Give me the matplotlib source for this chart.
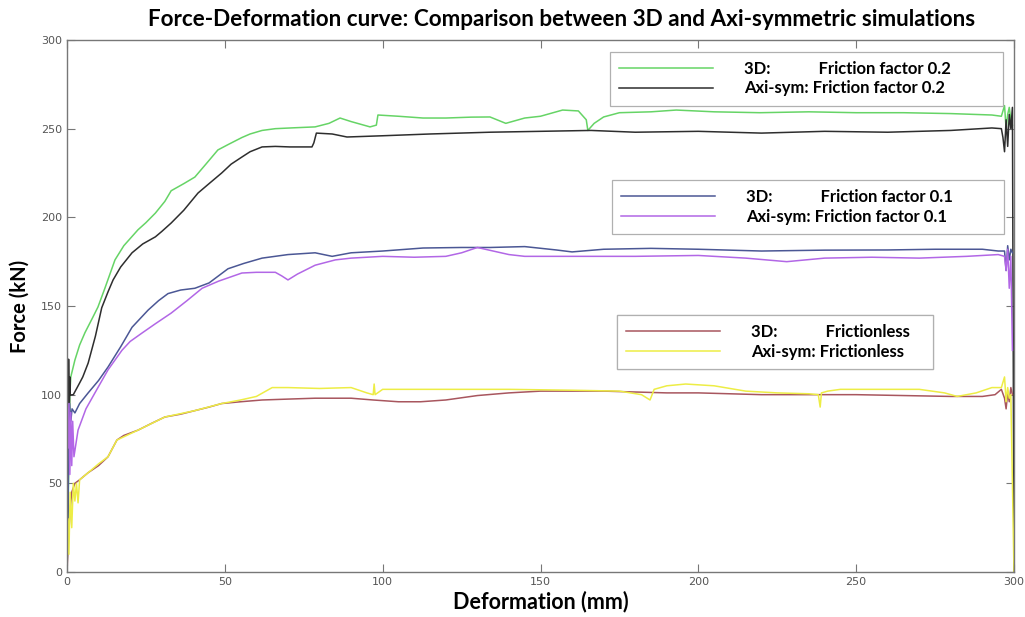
import matplotlib
matplotlib.use("Agg")
import matplotlib.pyplot as plt
from matplotlib.lines import Line2D

# 3D model, friction factor 0.2
green_x = [0, 0.3, 0.6, 0.9, 1.2, 2.5, 4, 5.7, 8, 9.8, 12, 15.2, 18, 22.5, 25, 28, 31, 33, 37, 40.5,
           44, 47.8, 51, 55.4, 58, 61.8, 66, 72, 78.6, 83, 86.5, 90, 94, 96, 98, 98.5, 105, 112.8, 120,
           128, 134, 139, 145, 150, 157, 162, 164.5, 165, 167, 170, 175, 185, 193, 205, 219.5, 235,
           250, 265, 280, 293, 296, 297, 297.5, 298, 298.5, 299, 299.5]
green_y = [0, 25, 70, 100, 110, 119.5, 128, 135, 143, 149.4, 160, 176, 184, 193, 197, 202.4, 209, 215,
           219, 222.7, 230, 238, 241, 245, 247, 249, 250, 250.5, 251, 253, 256, 254, 252, 251, 252,
           257.7, 257, 256, 256, 256.5, 256.6, 253, 256, 257, 260.5, 260, 255, 249, 253, 256.6, 259,
           259.5, 260.5, 259.5, 259, 259.5, 259, 259, 258.5, 257.7, 257, 263, 250, 258, 262, 255, 252]

# axi-symmetric model, friction factor 0.2
black_x = [0, 0.3, 0.5, 0.7, 0.9, 1.0, 2, 4, 5, 6.7, 9, 11, 13, 14.6, 17, 20.6, 24, 28, 30, 33, 37,
           41.5, 45, 49, 52, 55.4, 58, 61.8, 66, 70.6, 76, 77.6, 78.2, 79, 84, 88.7, 100, 115, 134,
           150, 166, 180, 200, 220, 240, 260, 280, 293, 296, 296.5, 297, 297.5, 298, 298.5, 299,
           299.5, 300]
black_y = [0, 40, 120, 85, 110, 99.8, 100, 106.6, 110, 117.8, 133, 149, 158, 164.7, 172, 180, 185,
           189, 192, 196.8, 204, 213.7, 219, 225, 230, 234, 237, 239.7, 240, 239.7, 239.7, 239.7, 242,
           247.5, 247, 245.3, 246, 247, 248, 248.5, 249, 248, 248.5, 247.5, 248.5, 248, 249, 250.4,
           250, 245, 237, 255, 240, 258, 250, 262, 0]

# 3D model, friction factor 0.1
blue_x = [0, 0.5, 0.8, 1.2, 1.6, 2.5, 4, 6.7, 10, 13, 17, 20.6, 25.7, 29, 32, 36, 40.5, 45, 51, 56,
          61.8, 70, 78.6, 84, 90, 100, 112.8, 125, 134, 145, 155, 160, 170, 185, 200, 220, 240, 260,
          275, 290, 295, 297, 297.5, 298, 298.5, 299, 299.5]
blue_y = [0, 60, 95, 85, 92, 89.7, 95, 101, 108, 115.6, 127, 138, 147.7, 153, 157, 159, 160, 163,
          171, 174, 177, 179, 180, 178, 180, 181, 182.7, 183, 183, 183.5, 181.6, 180.5, 182, 182.5,
          182, 181, 181.5, 181.6, 182, 182, 181, 181, 170, 184, 176, 182, 180]

# axi-symmetric model, friction factor 0.1
purple_x = [0.3, 0.6, 0.9, 1.2, 1.5, 1.8, 2.2, 3.5, 6, 9.8, 13, 17.4, 20, 23.8, 28, 33, 38, 42.8,
            48, 55.4, 60, 66, 68, 70, 73, 78.6, 85, 90, 100, 110, 120, 125, 130, 135, 140, 145, 160,
            180, 200, 215, 228, 240, 255, 270, 285, 295, 297, 297.5, 298, 298.5, 299, 299.5]
purple_y = [70, 95, 55, 90, 60, 85, 65, 80, 92, 104, 114, 125, 130, 134.8, 140, 146, 153, 160, 164,
            168.6, 169, 169, 167, 164.7, 168, 173, 176, 177, 178, 177.5, 178, 180, 183, 181, 179,
            178, 178, 178, 178.5, 177, 175, 177, 177.5, 177, 178, 179, 178, 170, 182, 160, 178, 125]

# 3D model, frictionless
brown_x = [0, 0.5, 1, 1.5, 2.5, 4, 6.7, 10, 13, 15.8, 18, 22.5, 27, 31, 36, 40.5, 45, 49, 55, 61.8,
           70, 78.6, 90, 97, 105, 112, 120, 130, 140, 150, 160, 170, 180, 190, 200, 210, 220, 235,
           250, 265, 280, 290, 294, 296, 297, 297.5, 298, 298.5, 299, 299.5]
brown_y = [0, 20, 35, 45, 50, 52, 56, 60, 65, 74.4, 77, 80, 84, 87.4, 89, 91, 93, 95, 96, 97, 97.5,
           98, 98, 97, 96, 96, 97, 99.5, 101, 102, 102, 102, 101.5, 101, 101, 100.5, 100, 100, 100,
           99.5, 99, 99, 100, 103, 98, 92, 101, 96, 104, 100]

# axi-symmetric model, frictionless
yellow_x = [0, 0.3, 0.6, 1, 1.5, 2, 2.5, 3, 3.5, 4, 6.7, 10, 13, 15.8, 22.5, 31, 40.5, 49, 55, 60,
            65, 70, 80, 90, 95, 97, 97.3, 97.6, 100, 110, 120, 140, 160, 175, 182, 184.7, 186, 190,
            196, 205, 215, 225, 235, 238, 238.6, 239, 241, 245, 260, 270, 278, 282, 288, 293, 296,
            297, 297.5, 298, 298.5, 299, 300]
yellow_y = [0, 30, 10, 45, 25, 50, 40, 50, 39, 52, 56, 61, 65, 74.4, 80, 87.4, 91, 95, 97, 99, 104,
            104, 103.5, 104, 101, 100, 106, 100, 103, 103, 103, 103, 102.5, 102, 100, 97, 103, 105,
            106, 105, 102, 101, 100.5, 100, 93, 101, 102, 103, 103, 103, 101, 99, 101, 104, 104, 110,
            96, 104, 98, 100, 0]

c_green = "#66d466"
c_black = "#2e2e2e"
c_blue = "#4b5795"
c_purple = "#b267e6"
c_brown = "#a8565e"
c_yellow = "#eded45"

W, H = 1025, 617
fig = plt.figure(figsize=(W / 100, H / 100), dpi=100)
ax = fig.add_axes([67 / W, 1 - 572 / H, 947 / W, 532 / H])

ax.plot(green_x, green_y, color=c_green, lw=1.1)
ax.plot(black_x, black_y, color=c_black, lw=1.1)
ax.plot(blue_x, blue_y, color=c_blue, lw=1.1)
ax.plot(purple_x, purple_y, color=c_purple, lw=1.1)
ax.plot(brown_x, brown_y, color=c_brown, lw=1.1)
ax.plot(yellow_x, yellow_y, color=c_yellow, lw=1.1)

ax.set_xlim(0, 300)
ax.set_ylim(0, 300)
ax.set_xticks(range(0, 301, 50))
ax.set_yticks(range(0, 301, 50))
ax.tick_params(direction="in", top=True, right=True, length=6, width=0.8,
               color="#777777", labelsize=8, labelcolor="#555555")
for s in ax.spines.values():
    s.set_color("#777777")
    s.set_linewidth(1.0)

fig.text(562 / W, 1 - 19 / H,
         "Force-Deformation curve: Comparison between 3D and Axi-symmetric simulations",
         fontsize=16.2, fontweight="bold", family="Lato", ha="center", va="center")
ax.set_xlabel("Deformation (mm)", fontsize=15.5, fontweight="bold", family="Lato", labelpad=3)
ax.set_ylabel("Force (kN)", fontsize=14.5, fontweight="bold", family="Lato", labelpad=8)


def add_box(h1, h2, lab1, lab2, x0, x1, y0, y1):
    # legend frame spans the given pixel box
    leg = ax.legend([h1, h2], [lab1, lab2], loc="upper left", mode="expand",
                    bbox_to_anchor=(x0 / W, 1 - y1 / H, (x1 - x0) / W, (y1 - y0) / H),
                    bbox_transform=fig.transFigure, borderaxespad=0,
                    prop={"family": "Lato", "weight": "bold", "size": 12},
                    handlelength=5.6, handletextpad=1.9, labelspacing=0.2,
                    borderpad=0.55, fancybox=False, framealpha=1, edgecolor="#b0b0b0")
    leg.get_frame().set_linewidth(0.9)
    ax.add_artist(leg)
    return leg


def h(c):
    return Line2D([], [], color=c, lw=1.1)


add_box(h(c_green), h(c_black), "3D:            Friction factor 0.2",
        "Axi-sym: Friction factor 0.2", 610, 1003, 52, 108)
add_box(h(c_blue), h(c_purple), "3D:            Friction factor 0.1",
        "Axi-sym: Friction factor 0.1", 612, 1004, 180, 233)
add_box(h(c_brown), h(c_yellow), "3D:            Frictionless",
        "Axi-sym: Frictionless", 617, 933, 315, 368)

fig.savefig("out.png", dpi=100)
